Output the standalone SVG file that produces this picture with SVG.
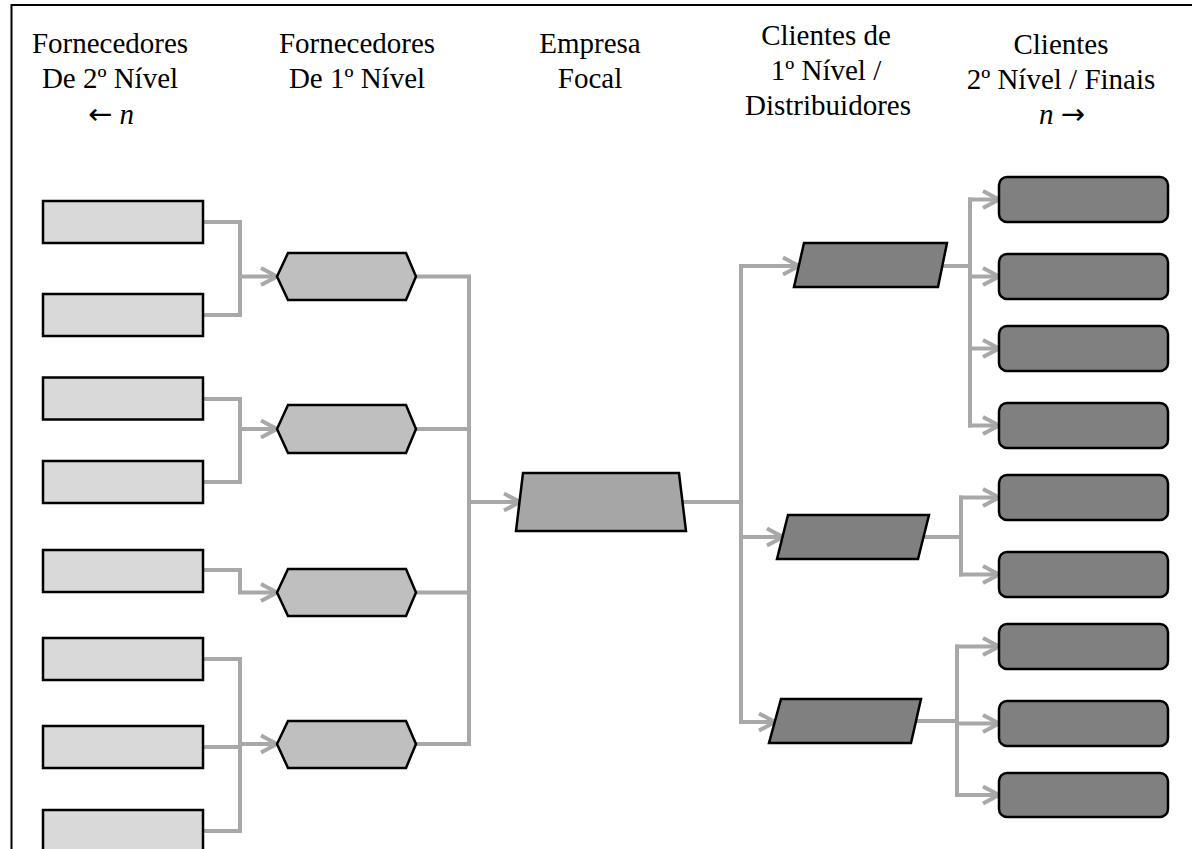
<svg xmlns="http://www.w3.org/2000/svg" width="1192" height="849" viewBox="0 0 1192 849">
<style>
.t{font-family:"Liberation Serif","Times New Roman",serif;font-size:29px;fill:#000;text-anchor:middle}
.ar{font-family:"DejaVu Sans",sans-serif;font-size:29px}
.it{font-style:italic}
.c{fill:none;stroke:#a8a8a8;stroke-width:4;stroke-linejoin:miter}
.a{marker-end:url(#arr)}
.s2{fill:#d9d9d9;stroke:#000;stroke-width:2.5}
.s1{fill:#bfbfbf;stroke:#000;stroke-width:2.5}
.f{fill:#a6a6a6;stroke:#000;stroke-width:2.5}
.d{fill:#808080;stroke:#000;stroke-width:2.5}
</style>
<defs>
<marker id="arr" markerUnits="userSpaceOnUse" viewBox="0 0 20 22" refX="18" refY="11" markerWidth="20" markerHeight="22" orient="auto">
<path d="M2,2.5 L18,11 L2,19.5" fill="none" stroke="#a8a8a8" stroke-width="4"/>
</marker>
</defs>
<rect width="1192" height="849" fill="#fff"/>
<g id="frame" fill="none" stroke="#000" stroke-width="2">
<path d="M11.5,849 V5 H1192"/>
</g>
<g id="headers">
<text class="t" x="110" y="53">Fornecedores</text>
<text class="t" x="110" y="88">De 2º Nível</text>
<text class="t" x="111" y="124"><tspan class="ar">←</tspan> <tspan class="it">n</tspan></text>
<text class="t" x="357" y="53">Fornecedores</text>
<text class="t" x="357" y="88">De 1º Nível</text>
<text class="t" x="590" y="53">Empresa</text>
<text class="t" x="590" y="88">Focal</text>
<text class="t" x="826" y="45">Clientes de</text>
<text class="t" x="826" y="80">1º Nível /</text>
<text class="t" x="828" y="115">Distribuidores</text>
<text class="t" x="1061" y="54">Clientes</text>
<text class="t" x="1061" y="89">2º Nível / Finais</text>
<text class="t" x="1062" y="124"><tspan class="it">n</tspan> <tspan class="ar">→</tspan></text>
</g>
<g id="connectors">
<path class="c" d="M203,222 H240 V315 H203"/>
<path class="c a" d="M240,276.5 H277"/>
<path class="c" d="M203,399 H240 V482 H203"/>
<path class="c a" d="M240,429 H277"/>
<path class="c a" d="M203,570 H240 V592.5 H277"/>
<path class="c" d="M203,659 H240 V831 H203"/>
<path class="c" d="M203,747 H240"/>
<path class="c a" d="M240,744 H277"/>
<path class="c" d="M416,276.5 H469 V744 H416"/>
<path class="c" d="M416,429 H469"/>
<path class="c" d="M416,592.5 H469"/>
<path class="c a" d="M469,502 H520"/>
<path class="c" d="M683,502 H741"/>
<path class="c" d="M741,264 V724"/>
<path class="c a" d="M739,266 H799"/>
<path class="c a" d="M741,537 H783"/>
<path class="c a" d="M739,722 H775"/>
<path class="c" d="M942,266 H970"/>
<path class="c" d="M970,197.5 V427.5"/>
<path class="c a" d="M968,199.5 H999"/>
<path class="c a" d="M970,276.5 H999"/>
<path class="c a" d="M970,348.5 H999"/>
<path class="c a" d="M968,425.5 H999"/>
<path class="c" d="M923,537 H961"/>
<path class="c" d="M961,495.5 V576.5"/>
<path class="c a" d="M959,497.5 H999"/>
<path class="c a" d="M959,574.5 H999"/>
<path class="c" d="M916,721 H957"/>
<path class="c" d="M957,644.5 V797"/>
<path class="c a" d="M955,646.5 H999"/>
<path class="c a" d="M957,723.5 H999"/>
<path class="c a" d="M955,795 H999"/>
</g>
<g id="sup2-1"><rect class="s2" x="43" y="201" width="160" height="42"/></g>
<g id="sup2-2"><rect class="s2" x="43" y="294" width="160" height="42"/></g>
<g id="sup2-3"><rect class="s2" x="43" y="377.5" width="160" height="42"/></g>
<g id="sup2-4"><rect class="s2" x="43" y="461" width="160" height="42"/></g>
<g id="sup2-5"><rect class="s2" x="43" y="550" width="160" height="42"/></g>
<g id="sup2-6"><rect class="s2" x="43" y="638" width="160" height="42"/></g>
<g id="sup2-7"><rect class="s2" x="43" y="726" width="160" height="42"/></g>
<g id="sup2-8"><rect class="s2" x="43" y="810" width="160" height="42"/></g>
<g id="sup1-1"><polygon class="s1" points="277,276.5 288,253 406,253 416,276.5 406,300 288,300"/></g>
<g id="sup1-2"><polygon class="s1" points="277,429 288,405 406,405 416,429 406,453 288,453"/></g>
<g id="sup1-3"><polygon class="s1" points="277,592.5 288,569 406,569 416,592.5 406,616 288,616"/></g>
<g id="sup1-4"><polygon class="s1" points="277,744 288,721 406,721 416,744 406,768 288,768"/></g>
<g id="focal"><polygon class="f" points="523,473 679,473 686,531 516,531"/></g>
<g id="dist-1"><polygon class="d" points="804,243 947,243 938,287 794,287"/></g>
<g id="dist-2"><polygon class="d" points="788,515 929,515 918,559 777,559"/></g>
<g id="dist-3"><polygon class="d" points="781,699 921,699 911,743 769,743"/></g>
<g id="cli-1"><rect class="d" x="999" y="177" width="169" height="45" rx="8"/></g>
<g id="cli-2"><rect class="d" x="999" y="254" width="169" height="45" rx="8"/></g>
<g id="cli-3"><rect class="d" x="999" y="326" width="169" height="45" rx="8"/></g>
<g id="cli-4"><rect class="d" x="999" y="403" width="169" height="45" rx="8"/></g>
<g id="cli-5"><rect class="d" x="999" y="475" width="169" height="45" rx="8"/></g>
<g id="cli-6"><rect class="d" x="999" y="552" width="169" height="45" rx="8"/></g>
<g id="cli-7"><rect class="d" x="999" y="624" width="169" height="45" rx="8"/></g>
<g id="cli-8"><rect class="d" x="999" y="701" width="169" height="45" rx="8"/></g>
<g id="cli-9"><rect class="d" x="999" y="773" width="169" height="44" rx="8"/></g>
</svg>
